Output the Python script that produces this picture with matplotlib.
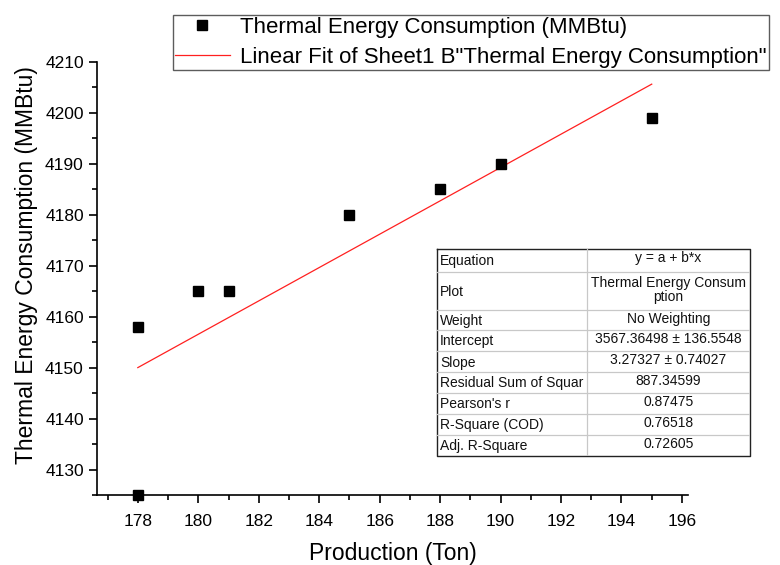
import matplotlib
matplotlib.use("Agg")
import matplotlib.pyplot as plt
from matplotlib.ticker import MultipleLocator
import numpy as np

plt.rcParams['font.family'] = ['Liberation Sans', 'DejaVu Sans']

# Measured data
production = [178, 178, 180, 181, 185, 188, 190, 195]
consumption = [4158, 4125, 4165, 4165, 4180, 4185, 4190, 4199]

# Fit parameters
intercept = 3567.36498
slope = 3.27327

table_rows = [
    ("Equation", "y = a + b*x"),
    ("Plot", "Thermal Energy Consum\nption"),
    ("Weight", "No Weighting"),
    ("Intercept", "3567.36498 \u00b1 136.5548"),
    ("Slope", "3.27327 \u00b1 0.74027"),
    ("Residual Sum of Squar", "887.34599"),
    ("Pearson's r", "0.87475"),
    ("R-Square (COD)", "0.76518"),
    ("Adj. R-Square", "0.72605"),
]

W, H = 780, 565
fig = plt.figure(figsize=(W / 100, H / 100), dpi=100)
ax = fig.add_axes([97 / W, 1 - 495 / H, (688 - 97) / W, (495 - 62) / H])

fit_x = np.array([min(production), max(production)], dtype=float)
fit_y = intercept + slope * fit_x

sc, = ax.plot(production, consumption, 's', color='black', ms=7, clip_on=False, zorder=3,
              label='Thermal Energy Consumption (MMBtu)')
ln, = ax.plot(fit_x, fit_y, '-', color='#ff2020', lw=0.9,
              label='Linear Fit of Sheet1 B"Thermal Energy Consumption"')

ax.set_xlim(176.65, 196.2)
ax.set_ylim(4125, 4210)
ax.xaxis.set_major_locator(MultipleLocator(2))
ax.xaxis.set_minor_locator(MultipleLocator(1))
ax.yaxis.set_major_locator(MultipleLocator(10))
ax.yaxis.set_minor_locator(MultipleLocator(5))
ax.spines['top'].set_visible(False)
ax.spines['right'].set_visible(False)
for s in ('left', 'bottom'):
    ax.spines[s].set_linewidth(1.2)
ax.tick_params(which='major', direction='out', length=6, width=1.2, labelsize=12.5)
ax.tick_params(axis='x', which='major', pad=8)
ax.tick_params(which='minor', direction='out', length=3.5, width=1.2)
ax.set_xlabel('Production (Ton)', fontsize=16.5, labelpad=9)
ax.set_ylabel('Thermal Energy Consumption (MMBtu)', fontsize=16.5, labelpad=5)
ax.yaxis.label.set_y(0.53)

leg = fig.legend(handles=[sc, ln], loc='upper left',
                 bbox_to_anchor=(173 / W, 1 - 15 / H), fontsize=16,
                 frameon=True, fancybox=False, edgecolor='#333333',
                 borderpad=0.1, labelspacing=0.38, handlelength=2.45,
                 handletextpad=0.45, borderaxespad=0)
leg.get_frame().set_linewidth(1.0)

# Fit statistics table
tx0, tx1, tmid = 437, 750, 587
row_edges = [249, 272, 310, 330, 351, 372, 393, 414, 435, 456]
tab = fig.add_axes([tx0 / W, 1 - row_edges[-1] / H, (tx1 - tx0) / W,
                    (row_edges[-1] - row_edges[0]) / H])
tab.set_xlim(tx0, tx1)
tab.set_ylim(row_edges[-1], row_edges[0])
tab.axis('off')
tab.patch.set_visible(False)
tab.plot([tx0, tx1, tx1, tx0, tx0],
         [row_edges[0], row_edges[0], row_edges[-1], row_edges[-1], row_edges[0]],
         color='#222222', lw=1.0, clip_on=False)
for yy in row_edges[1:-1]:
    tab.plot([tx0, tx1], [yy, yy], color='#c8c8c8', lw=0.9)
tab.plot([tmid, tmid], [row_edges[0], row_edges[-1]], color='#c8c8c8', lw=0.9)
for (name, val), y0, y1 in zip(table_rows, row_edges[:-1], row_edges[1:]):
    tab.text(tx0 + 3, (y0 + y1) / 2 + 1, name, ha='left', va='center',
             fontsize=10, color='#111111')
    if '\n' in val:
        tab.text((tmid + tx1) / 2, (y0 + y1) / 2 - 1, val, ha='center', va='center',
                 fontsize=10, linespacing=1.0, color='#111111')
    else:
        tab.text((tmid + tx1) / 2, y0 + 9, val, ha='center', va='center',
                 fontsize=10, color='#111111')

fig.savefig('out.png', dpi=100)
